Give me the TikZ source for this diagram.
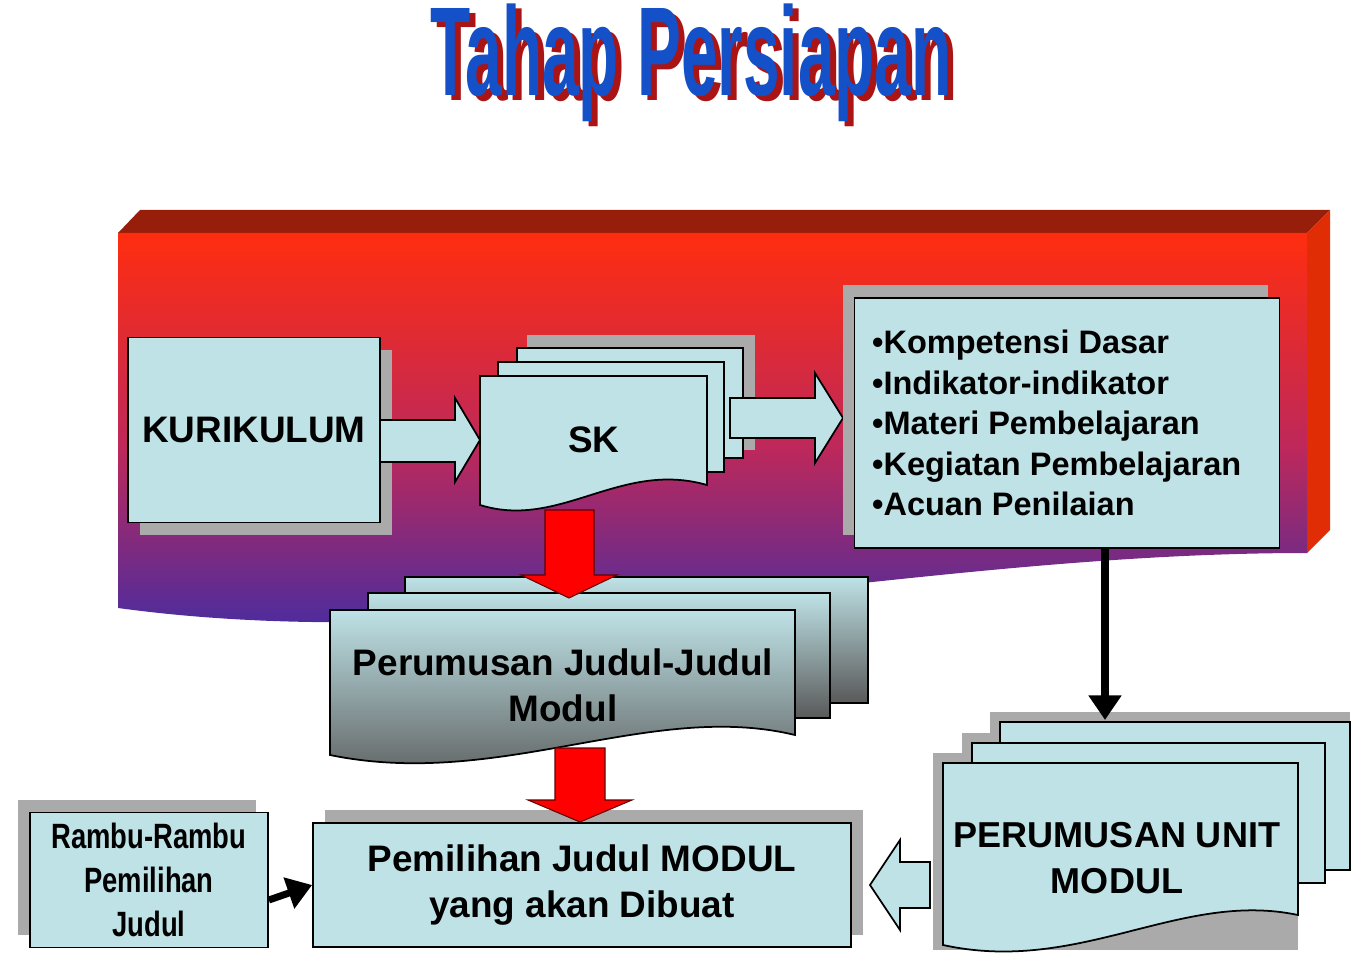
\documentclass[tikz,border=0pt]{standalone}
\usepackage{fontspec}
\setmainfont{Liberation Sans}
\newfontfamily\narrowfont[FakeStretch=0.78]{Liberation Sans}
\newfontfamily\titlefont[FakeStretch=0.52]{Liberation Sans}
\definecolor{boxc}{RGB}{190,226,230}
\definecolor{shad}{RGB}{170,170,170}
\definecolor{tblue}{RGB}{20,80,200}
\definecolor{tred}{RGB}{170,20,20}
\usetikzlibrary{arrows.meta}
\tikzset{bx/.style={draw=black,line width=1pt,fill=boxc},
 sh/.style={fill=shad,draw=none},
 lbl/.style={font=\bfseries\fontsize{21}{26}\selectfont,align=center},
 redarr/.style={fill=red,draw=black!60!red,line width=0.6pt},
 holl/.style={fill=boxc,draw=black,line width=1pt},
 blk/.style={line width=4pt,-{Triangle[length=14pt,width=18pt]}}}
\begin{document}
\begin{tikzpicture}[x=0.02cm,y=-0.02cm]
\useasboundingbox (0,0) rectangle (1357,963);
% title
\node[font=\titlefont\bfseries\fontsize{72}{72}\selectfont,text=tred] at (697,68) {Tahap Persiapan};
\node[font=\titlefont\bfseries\fontsize{72}{72}\selectfont,text=tblue] (title) at (691,63) {Tahap Persiapan};
% banner
\fill[fill={rgb,255:red,150;green,30;blue,10}] (118,233) -- (140,210) -- (1330,210) -- (1307,233) -- cycle;
\fill[fill={rgb,255:red,225;green,45;blue,5}] (1307,233) -- (1330,210) -- (1330,530) -- (1307,553) -- cycle;
\shade[top color={rgb,255:red,255;green,45;blue,15}, bottom color={rgb,255:red,55;green,45;blue,170}, middle color={rgb,255:red,190;green,40;blue,90}]
 (118,233) -- (1307,233) -- (1307,553) .. controls (900,553) and (500,660) .. (118,608) -- cycle;
% KURIKULUM
\fill[sh] (140,350) rectangle (392,535);
\node[bx,minimum width=252*0.02cm,minimum height=185*0.02cm,lbl] (kur) at (254,430) {KURIKULUM};
% arrow kur->sk
\draw[holl] (380,420) -- (455,420) -- (455,398) -- (480,440) -- (455,482) -- (455,462) -- (380,462) -- cycle;
% SK stack
\fill[sh] (527,335) rectangle (755,450);
\draw[bx] (517,348) rectangle (743,458);
\draw[bx] (498,362) rectangle (724,472);
\draw[bx] (480,376) -- (707,376) -- (707,485) .. controls (620,460) and (560,530) .. (480,505) -- cycle;
\node[lbl] (sk) at (594,440) {SK};
% arrow sk->list
\draw[holl] (730,398) -- (815,398) -- (815,373) -- (843,418) -- (815,463) -- (815,438) -- (730,438) -- cycle;
% list box
\fill[sh] (843,285) rectangle (1268,535);
\node[bx,minimum width=425*0.02cm,minimum height=250*0.02cm] (list) at (1067,423) {};
\node[font=\bfseries\fontsize{18.5}{23}\selectfont,align=left,anchor=west] at (866,423) {•Kompetensi Dasar\\•Indikator-indikator\\•Materi Pembelajaran\\•Kegiatan Pembelajaran\\•Acuan Penilaian};
% Perumusan stack
\shade[top color=boxc,bottom color=black!65,draw=black,line width=1pt] (405,577) rectangle (868,703);
\shade[top color=boxc,bottom color=black!65,draw=black,line width=1pt] (368,593) rectangle (830,718);
\shade[top color=boxc,bottom color=black!65,draw=black,line width=1pt] (330,610) -- (795,610) -- (795,735) .. controls (650,700) and (500,790) .. (330,755) -- cycle;
\node[lbl] (judul) at (563,685) {Perumusan Judul-Judul\\Modul};
% red arrow sk -> perumusan
\draw[redarr] (545,510) -- (594,510) -- (594,575) -- (617,575) -- (569,598) -- (521,575) -- (545,575) -- cycle;
% Pemilihan
\fill[sh] (325,810) rectangle (863,935);
\node[bx,minimum width=538*0.02cm,minimum height=124*0.02cm,lbl] (pem) at (582,885) {Pemilihan Judul MODUL\\yang akan Dibuat};
% red arrow -> pemilihan
\draw[redarr] (555,748) -- (605,748) -- (605,800) -- (632,800) -- (580,822) -- (528,800) -- (555,800) -- cycle;
% Rambu
\fill[sh] (18,800) rectangle (256,935);
\node[bx,minimum width=238*0.02cm,minimum height=135*0.02cm,font=\narrowfont\bfseries\fontsize{20}{25}\selectfont,align=center] (rambu) at (149,880) {Rambu-Rambu\\Pemilihan\\Judul};
\draw[blk] (rambu.east|-0,900) -- (pem.west|-0,885);
% PERUMUSAN UNIT
\fill[sh] (990,712) rectangle (1350,860);
\fill[sh] (962,733) rectangle (1325,875);
\fill[sh] (933,753) rectangle (1298,950);
\draw[bx] (1000,722) rectangle (1350,870);
\draw[bx] (972,743) rectangle (1325,883);
\draw[bx] (943,763) -- (1298,763) -- (1298,915) .. controls (1180,890) and (1080,975) .. (943,945) -- cycle;
\node[font=\bfseries\fontsize{20.5}{26}\selectfont,align=center] (unit) at (1117,858) {PERUMUSAN UNIT\\MODUL};
\draw[blk] (list.south-|1105,0) -- (1105,720);
% hollow arrow left
\draw[holl] (930,862) -- (900,862) -- (900,840) -- (870,885) -- (900,930) -- (900,908) -- (930,908) -- cycle;
\end{tikzpicture}
\end{document}
